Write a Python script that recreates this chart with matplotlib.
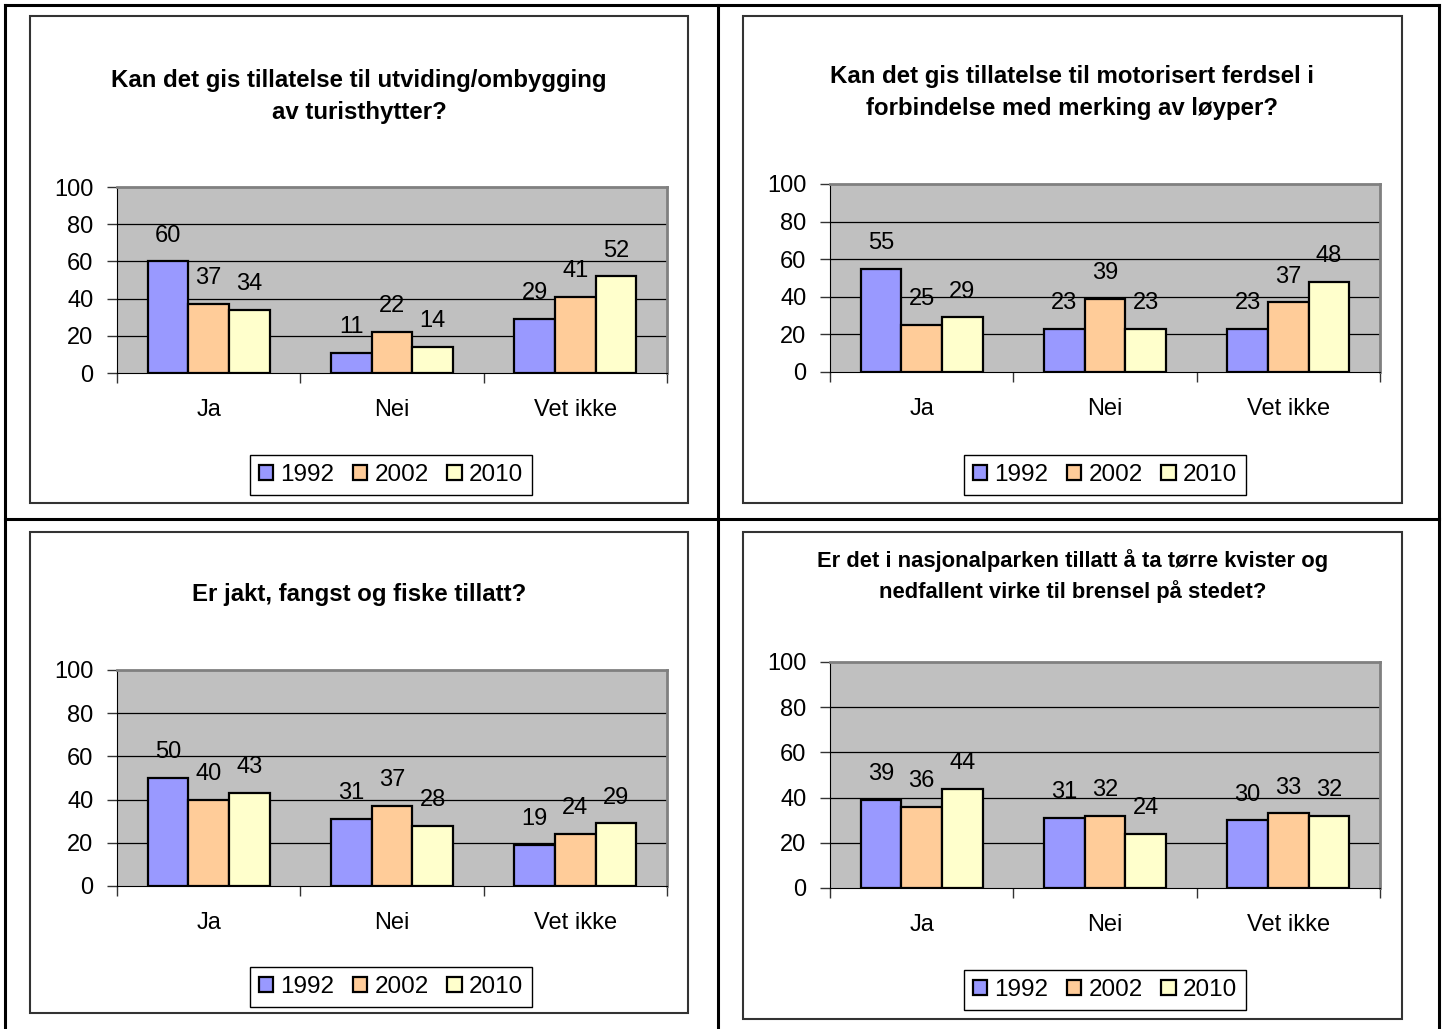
import numpy as np
import matplotlib.pyplot as plt
from matplotlib.patches import Rectangle, Patch
from matplotlib.lines import Line2D

plt.rcParams['font.family'] = ['Liberation Sans', 'DejaVu Sans']

W, H = 1448, 1029

categories = ["Ja", "Nei", "Vet ikke"]
years = ["1992", "2002", "2010"]
colors = ["#9999FF", "#FFCC99", "#FFFFCC"]

titles = [
    "Kan det gis tillatelse til utviding/ombygging\nav turisthytter?",
    "Kan det gis tillatelse til motorisert ferdsel i\nforbindelse med merking av løyper?",
    "Er jakt, fangst og fiske tillatt?",
    "Er det i nasjonalparken tillatt å ta tørre kvister og\nnedfallent virke til brensel på stedet?",
]

# values per panel: rows = year (1992, 2002, 2010), columns = category
utviding = [[60, 11, 29], [37, 22, 41], [34, 14, 52]]
motorisert = [[55, 23, 23], [25, 39, 37], [29, 23, 48]]
jakt = [[50, 31, 19], [40, 37, 24], [43, 28, 29]]
brensel = [[39, 31, 30], [36, 32, 33], [44, 24, 32]]
panel_data = [utviding, motorisert, jakt, brensel]

# layout in pixels (x0, y0, x1, y1), y from top
frames = [(30, 16, 688, 503), (743, 16, 1402, 503),
          (30, 532, 688, 1013), (743, 532, 1402, 1019)]
plots = [(117, 187, 667, 373), (830, 184, 1380, 372),
         (117, 670, 667, 886), (830, 662, 1380, 888)]
title_y = [96, 93, 595, 576]
title_size = [17.3, 17.3, 17.3, 15.8]
legend_c = [(391, 475), (1105, 475), (391, 987), (1105, 990)]


def fig_rect(r):
    x0, y0, x1, y1 = r
    return [x0 / W, 1 - y1 / H, (x1 - x0) / W, (y1 - y0) / H]


fig = plt.figure(figsize=(W / 100, H / 100), dpi=100)

# table lines
for xs, ys in [((5, 5), (5, 1029)), ((718, 718), (5, 1029)), ((1439, 1439), (5, 1029)),
               ((5, 1439), (5, 5)), ((5, 1439), (519, 519))]:
    fig.add_artist(Line2D([x / W for x in xs], [1 - y / H for y in ys],
                          color="black", lw=2.2, transform=fig.transFigure))

for k in range(4):
    fr = fig_rect(frames[k])
    fig.add_artist(Rectangle((fr[0], fr[1]), fr[2], fr[3], transform=fig.transFigure,
                             fill=False, edgecolor="#333333", lw=1.5))

    ax = fig.add_axes(fig_rect(plots[k]))
    ax.set_facecolor("#C0C0C0")
    x = np.arange(len(categories))
    w = 1 / 4.5
    for j, yr in enumerate(years):
        vals = panel_data[k][j]
        ax.bar(x + (j - 1) * w, vals, w, color=colors[j], edgecolor="black",
               lw=1.6, zorder=3, label=yr)
        for xi, v in zip(x + (j - 1) * w, vals):
            ax.annotate(str(v), (xi, v), xytext=(0, 18.5), textcoords="offset points",
                        ha="center", va="center", fontsize=17)
    ax.set_xlim(-0.5, 2.5)
    ax.set_ylim(0, 100)
    ax.set_yticks([0, 20, 40, 60, 80, 100])
    ax.tick_params(axis="y", length=7, width=1, color="#333333", pad=10, labelsize=17)
    for g in [20, 40, 60, 80]:
        ax.axhline(g, color="black", lw=0.9, zorder=1)
    ax.set_xticks([-0.5, 0.5, 1.5, 2.5])
    ax.set_xticklabels([])
    ax.tick_params(axis="x", length=7, width=1, color="#333333")
    for i, c in enumerate(categories):
        ax.annotate(c, (i, 0), xytext=(0, -26.5), textcoords="offset points",
                    ha="center", va="center", fontsize=17, annotation_clip=False)
    ax.spines["left"].set_color("black")
    ax.spines["bottom"].set_color("black")
    ax.spines["top"].set_color("#808080")
    ax.spines["right"].set_color("#808080")
    ax.spines["top"].set_linewidth(2)
    ax.spines["right"].set_linewidth(2)

    cx = (frames[k][0] + frames[k][2]) / 2
    fig.text(cx / W, 1 - title_y[k] / H, titles[k], ha="center", va="center",
             fontsize=title_size[k], fontweight="bold", linespacing=1.5)

    handles = [Patch(facecolor=colors[j], edgecolor="black", lw=1.6, label=years[j])
               for j in range(3)]
    lc = legend_c[k]
    leg = fig.legend(handles=handles, loc="center", bbox_to_anchor=(lc[0] / W, 1 - lc[1] / H),
                     ncol=3, fontsize=17.5, handlelength=0.6, handleheight=0.6,
                     handletextpad=0.3, columnspacing=0.75, borderpad=0.35,
                     fancybox=False, framealpha=1)
    leg.get_frame().set_edgecolor("black")
    leg.get_frame().set_linewidth(1)

fig.savefig("out.png", dpi=100)
